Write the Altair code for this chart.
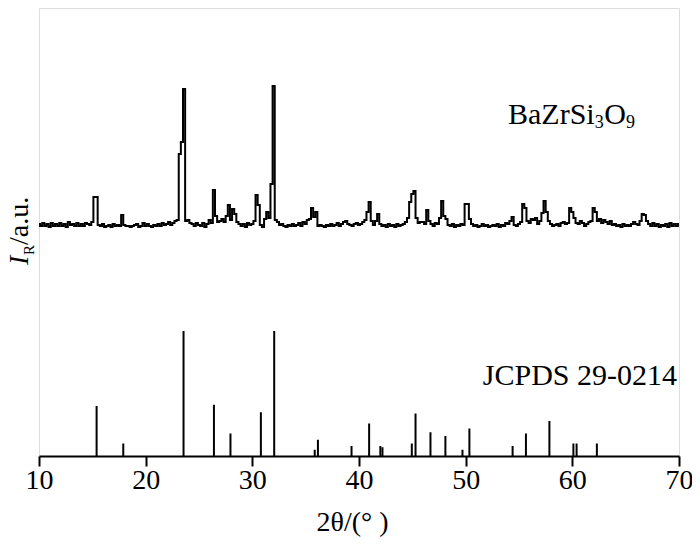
import altair as alt
import numpy as np
import pandas as pd

# ---------------- data ----------------
# Measured XRD pattern of BaZrSi3O9, sampled every 0.2 deg from 10 to 70 (relative intensity, a.u.)
two_theta_start = 10.0
two_theta_step = 0.2
xrd_intensity = (
    [0, -2, 1, -2, 0, -3, 1, -2, 0, -2]          # 10-12
    + [1, -2, 0, -3, 2, -1, 0, -2, 1, -2]        # 12-14
    + [0, -2, 1, 0, -1, 2, 27, 27, -1, -2]       # 14-16
    + [0, -3, -2, -1, -3, 0, -2, -1, -2, 9]      # 16-18
    + [-1, -2, -2, -3, -2, -1, 0, -3, -2, 1]     # 18-20
    + [-2, 0, -2, -3, -1, -2, 0, -2, 1, -1]      # 20-22
    + [0, 2, -1, 1, 3, 4, 70, 82, 135, 3]        # 22-24
    + [4, 1, 0, -2, 1, -1, -2, 1, -3, 0]         # 24-26
    + [4, 1, 34, 8, 2, 3, 5, 2, 8, 19]           # 26-28
    + [4, 15, 10, 2, 0, -2, 0, -3, 1, -1]        # 28-30
    + [0, 3, 29, 19, -1, -3, 5, 12, 6, 40]       # 30-32
    + [138, 4, 2, -1, 0, -2, -3, -1, -2, 0]      # 32-34
    + [-2, -1, 1, -2, 2, 0, 4, 5, 16, 7]         # 34-36
    + [12, -2, -1, -2, -3, -1, -2, 0, -2, -1]    # 36-38
    + [1, -2, 0, 2, 3, 0, -1, -2, 0, 1]          # 38-40
    + [-1, 0, 2, 4, 12, 22, 3, -1, 3, 10]        # 40-42
    + [0, -2, -1, -3, 0, -2, -1, -3, 0, -2]      # 42-44
    + [-1, 0, 2, 6, 22, 30, 33, 6, 1, 2]         # 44-46
    + [2, 0, 14, 3, 0, -2, 1, 0, 6, 23]          # 46-48
    + [8, 5, -1, -2, 0, -3, -1, -2, 0, -1]       # 48-50
    + [20, 20, 5, 0, -2, -1, -3, -2, 0, -2]      # 50-52
    + [-1, -3, -2, -1, -2, 0, -3, -1, -2, 1]     # 52-54
    + [0, 3, 7, -1, -2, 0, 2, 20, 16, 3]         # 54-56
    + [1, 5, 4, 6, 0, 3, 11, 23, 12, 3]          # 56-58
    + [0, -2, -1, 0, -2, 1, 2, 0, 1, 16]         # 58-60
    + [12, 6, 1, 0, 3, 1, -2, 0, 2, 3]           # 60-62
    + [16, 12, 3, 5, 1, 4, 2, 0, 3, -1]          # 62-64
    + [0, -2, -1, -3, 0, -2, -1, -2, 0, 2]       # 64-66
    + [0, -1, 3, 10, 9, 3, 0, -2, 1, -2]         # 66-68
    + [0, -3, -1, -2, 0, -3, 1, -2, 0, -2]       # 68-70
    + [0]
)

# JCPDS 29-0214 reference lines: position (2theta) and relative intensity (%)
jcpds_pos = [15.4, 17.9, 23.55, 26.4, 27.95, 30.8, 32.05, 35.85, 36.15, 39.3,
             40.95, 42.0, 42.2, 44.95, 45.3, 46.7, 48.1, 49.7, 50.35, 54.4,
             55.65, 57.85, 60.1, 60.4, 62.3]
jcpds_int = [40, 10, 100, 41, 18, 35, 100, 5, 13, 8,
             26, 8, 7, 10, 34, 19, 16, 5, 22, 8,
             18, 28, 10, 10, 10]

x_ticks = [10, 20, 30, 40, 50, 60, 70]
label_pattern = "BaZrSi"
label_pattern_sub1 = "3"
label_pattern_mid = "O"
label_pattern_sub2 = "9"
label_ref = "JCPDS 29-0214"
x_title = "2θ/(°  )"

# ---------------- layout constants ----------------
FONT = "Liberation Serif"
W, H = 640, 448
XRD_OFFSET = 232      # vertical offset of the measured pattern
STICK_SCALE = 1.25    # chart units per % for the reference lines

xrd_df = pd.DataFrame({
    "tt": [two_theta_start + two_theta_step * i for i in range(len(xrd_intensity))],
    "I": xrd_intensity,
})
xrd_df["y"] = XRD_OFFSET + xrd_df["I"]

stick_df = pd.DataFrame({"tt": jcpds_pos, "I": jcpds_int})
stick_df["y0"] = 0
stick_df["y"] = stick_df["I"] * STICK_SCALE

x_scale = alt.Scale(domain=[10, 70], nice=False, zero=False)
y_scale = alt.Scale(domain=[0, H], nice=False, zero=False)

x_axis = alt.Axis(
    values=x_ticks, format="d", grid=False,
    labelFont=FONT, labelFontSize=28, labelColor="black", labelPadding=0,
    labelFlush=False, labelOverlap=False,
    tickColor="black", tickSize=10, tickWidth=2,
    domainColor="black", domainWidth=2,
    title=x_title, titleFont=FONT, titleFontSize=28, titleFontWeight="normal",
    titleColor="black", titleX=313, titleY=74, titleBaseline="alphabetic",
    titleAlign="center",
)

line = alt.Chart(xrd_df).mark_line(
    interpolate="step", color="black", strokeWidth=2
).encode(
    x=alt.X("tt:Q", scale=x_scale, axis=x_axis),
    y=alt.Y("y:Q", scale=y_scale, axis=None),
)

sticks = alt.Chart(stick_df).mark_rule(color="black", strokeWidth=2).encode(
    x=alt.X("tt:Q", scale=x_scale, axis=x_axis),
    y=alt.Y("y0:Q", scale=y_scale, axis=None),
    y2="y:Q",
)


def label(text, x, y, size=30, align="left", angle=0, style="normal"):
    return alt.Chart(pd.DataFrame({"t": [text]})).mark_text(
        font=FONT, fontSize=size, color="black", align=align,
        baseline="alphabetic", angle=angle, fontStyle=style,
    ).encode(x=alt.value(x), y=alt.value(y), text="t:N")


texts = [
    label(label_pattern, 469, 116),
    label(label_pattern_sub1, 555.7, 120, size=18),
    label(label_pattern_mid, 565.2, 116),
    label(label_pattern_sub2, 586.9, 120, size=18),
    label(label_ref, 638, 377, align="right"),
    # y-axis title  I_R/a.u.
    label("I", -11, 257, size=28, angle=270, style="italic"),
    label("R", -5, 247, size=15, angle=270),
    label("/a.u.", -11, 237, size=28, angle=270),
]

chart = alt.layer(line, sticks, *texts).properties(
    width=W, height=H,
    autosize=alt.AutoSizeParams(type="none"),
    padding={"left": 31, "top": 0, "right": 13, "bottom": 90},
).configure_view(
    stroke="black", strokeWidth=2
).configure(
    font=FONT
)

chart.save("out.html", embed_options={"renderer": "svg", "actions": False})
